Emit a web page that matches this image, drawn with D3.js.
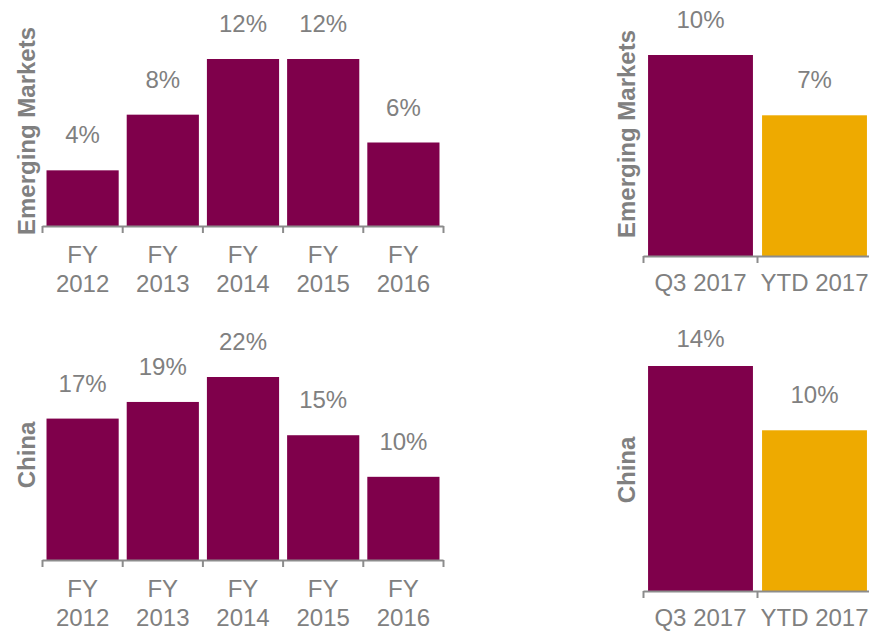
<!DOCTYPE html>
<html>
<head>
<meta charset="utf-8">
<script src="https://cdn.jsdelivr.net/npm/d3@7"></script>
<style>
  html, body { margin: 0; padding: 0; background: #fff; }
  svg { display: block; font-family: "Liberation Sans", Arial, sans-serif; }
</style>
</head>
<body>
<svg id="chart" width="869" height="632"></svg>
<script>
// ---- Data ----
const fyCategories = ["FY 2012", "FY 2013", "FY 2014", "FY 2015", "FY 2016"];
const emergingFY = [4, 8, 12, 12, 6];
const chinaFY = [17, 19, 22, 15, 10];
const ytdCategories = ["Q3 2017", "YTD 2017"];
const emergingYTD = [10, 7];
const chinaYTD = [14, 10];
const ytdColors = ["#7f004b", "#eeaa00"];
const fyColor = "#7f004b";

// ---- Layout ----
const svg = d3.select("#chart");
const textGray = "#808080";
const axisGray = "#8c8c8c";

const panels = [
  { title: "Emerging Markets", cats: fyCategories, vals: emergingFY, colors: null,
    x0: 42.5, x1: 443.5, pin: 0.1, pout: 0.05, base: 226, top: 59, vmax: 12,
    titleX: 26, titleY: 131, labelFloor: 0, twoLine: true },
  { title: "China", cats: fyCategories, vals: chinaFY, colors: null,
    x0: 42.5, x1: 443.5, pin: 0.1, pout: 0.05, base: 560, top: 377, vmax: 22,
    titleX: 26, titleY: 455, labelFloor: 0, twoLine: true },
  { title: "Emerging Markets", cats: ytdCategories, vals: emergingYTD, colors: ytdColors,
    x0: 643.5, x1: 871.5, pin: 0.08, pout: 0.04, base: 256, top: 55, vmax: 10,
    titleX: 626, titleY: 134, labelFloor: 0, twoLine: false },
  { title: "China", cats: ytdCategories, vals: chinaYTD, colors: ytdColors,
    x0: 643.5, x1: 871.5, pin: 0.08, pout: 0.04, base: 591, top: 366, vmax: 14,
    titleX: 626, titleY: 470, labelFloor: 347, twoLine: false }
];

panels.forEach(p => {
  const g = svg.append("g");
  const x = d3.scaleBand().domain(p.cats).range([p.x0, p.x1])
    .paddingInner(p.pin).paddingOuter(p.pout);
  const y = d3.scaleLinear().domain([0, p.vmax]).range([p.base, p.top]);
  const data = p.cats.map((c, i) => ({ c, v: p.vals[i], i }));

  // bars
  g.selectAll("rect.bar").data(data).join("rect")
    .attr("class", "bar")
    .attr("x", d => x(d.c))
    .attr("width", x.bandwidth())
    .attr("y", d => y(d.v))
    .attr("height", d => y(0) - y(d.v))
    .attr("fill", d => p.colors ? p.colors[d.i] : fyColor);

  // value labels
  g.selectAll("text.val").data(data).join("text")
    .attr("class", "val")
    .attr("x", d => x(d.c) + x.bandwidth() / 2)
    .attr("y", d => Math.max(y(d.v) - 27, p.labelFloor))
    .attr("text-anchor", "middle")
    .attr("font-size", 24)
    .attr("fill", textGray)
    .text(d => d.v + "%");

  // axis line with boundary ticks
  const step = x.step();
  const n = p.cats.length;
  const start = p.x0;
  g.append("line")
    .attr("x1", start).attr("x2", p.x1)
    .attr("y1", y(0) + 0.5).attr("y2", y(0) + 0.5)
    .attr("stroke", axisGray).attr("stroke-width", 2);
  const bounds = d3.range(n + 1).map(i => start + i * step);
  g.selectAll("line.tick").data(bounds).join("line")
    .attr("class", "tick")
    .attr("x1", d => d).attr("x2", d => d)
    .attr("y1", y(0)).attr("y2", y(0) + 7)
    .attr("stroke", axisGray).attr("stroke-width", 2);

  // category labels
  const cl = g.selectAll("text.cat").data(data).join("text")
    .attr("class", "cat")
    .attr("x", d => x(d.c) + x.bandwidth() / 2)
    .attr("text-anchor", "middle")
    .attr("font-size", 24)
    .attr("fill", textGray);
  if (p.twoLine) {
    cl.each(function(d) {
      const parts = d.c.split(" ");
      const t = d3.select(this);
      const cx = x(d.c) + x.bandwidth() / 2;
      t.append("tspan").attr("x", cx).attr("y", y(0) + 37).text(parts[0]);
      t.append("tspan").attr("x", cx).attr("y", y(0) + 66).text(parts[1]);
    });
  } else {
    cl.attr("y", y(0) + 35).text(d => d.c);
  }

  // panel title
  g.append("text")
    .attr("transform", `translate(${p.titleX},${p.titleY}) rotate(-90)`)
    .attr("text-anchor", "middle")
    .attr("dominant-baseline", "central")
    .attr("font-size", 24)
    .attr("font-weight", "bold")
    .attr("fill", textGray)
    .text(p.title);
});
</script>
</body>
</html>
